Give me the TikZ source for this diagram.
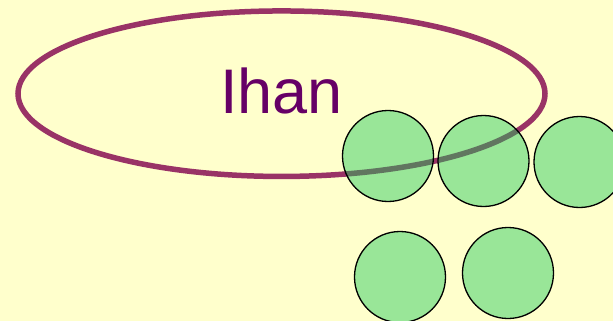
\documentclass[tikz,border=0pt]{standalone}
\usepackage{fontspec}
\setmainfont{Liberation Sans}
\usetikzlibrary{shapes.geometric}
\definecolor{bgyellow}{RGB}{255,255,204}
\definecolor{ringpurple}{RGB}{153,51,102}
\definecolor{textpurple}{RGB}{102,0,102}
\definecolor{ballgreen}{RGB}{30,200,90}
\newcommand{\drawball}{\node[draw=black,line width=1.3pt,circle,fill=ballgreen,fill opacity=0.45,minimum size=91pt,inner sep=0]}
\newcommand{\drawring}{\node[draw=ringpurple,line width=5.5pt,ellipse,minimum width=527pt,minimum height=165.5pt,inner sep=0]}

\begin{document}
\begin{tikzpicture}[x=1pt,y=-1pt]
%background and frame
\fill[bgyellow] (0,0) rectangle (613,321);
\useasboundingbox (0,0) rectangle (613,321);
\clip (0,0) rectangle (613,321);
%the set
\drawring (set) at (281.5,93.7) {};
\node[textpurple,anchor=base,font=\fontsize{63}{70}\selectfont] (name) at (281.5,113) {Ihan};
%elements
\drawball (b1) at (388,156) {};
\drawball (b2) at (483.5,161) {};
\drawball (b3) at (579.5,162) {};
\drawball (b4) at (400,277) {};
\drawball (b5) at (508,273) {};
\end{tikzpicture}
\end{document}
